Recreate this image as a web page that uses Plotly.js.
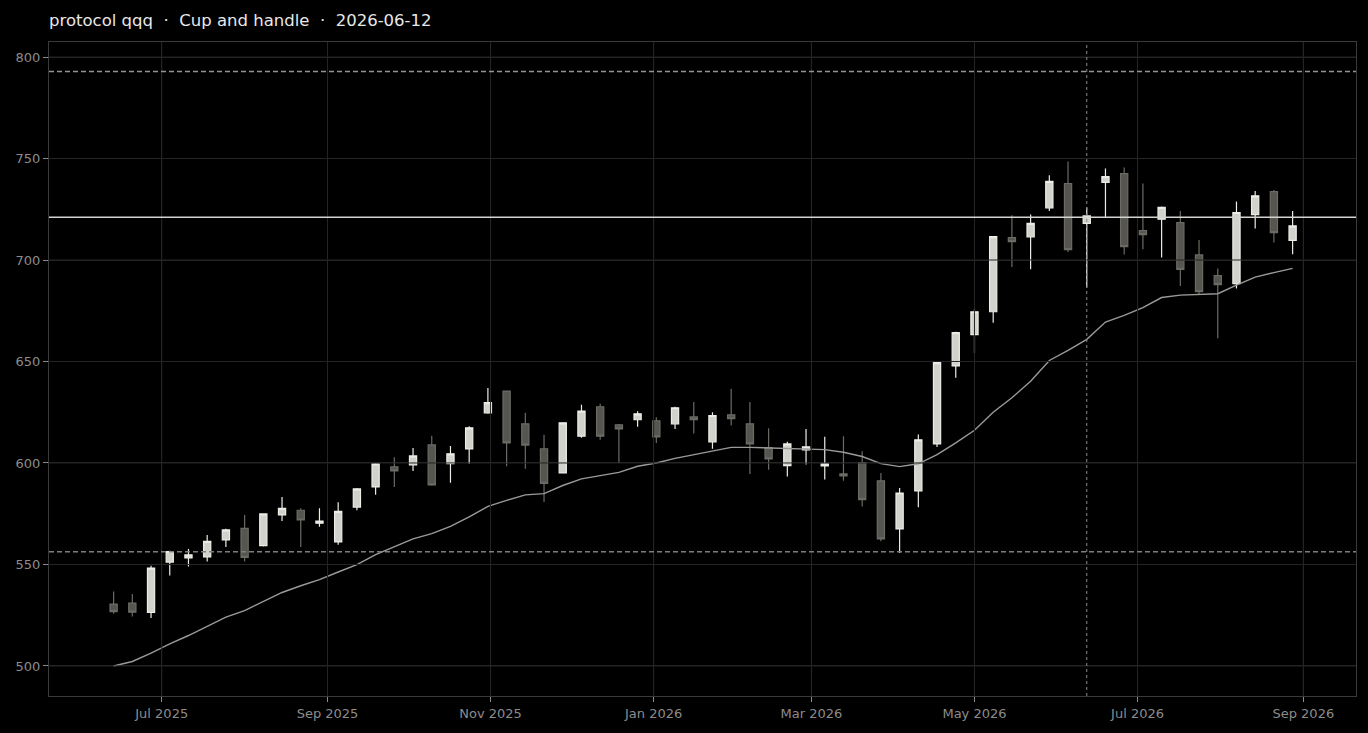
<!DOCTYPE html>
<html>
<head>
<meta charset="utf-8">
<script src="https://cdn.plot.ly/plotly-3.0.1.min.js"></script>
<style>
  html, body { margin: 0; padding: 0; background: #000; }
  #chart { width: 1368px; height: 733px; }
</style>
</head>
<body>
<div id="chart"></div>
<script>
const dates = [
  '2025-06-13','2025-06-20','2025-06-27','2025-07-04','2025-07-11','2025-07-18','2025-07-25','2025-08-01',
  '2025-08-08','2025-08-15','2025-08-22','2025-08-29','2025-09-05','2025-09-12','2025-09-19','2025-09-26',
  '2025-10-03','2025-10-10','2025-10-17','2025-10-24','2025-10-31','2025-11-07','2025-11-14','2025-11-21',
  '2025-11-28','2025-12-05','2025-12-12','2025-12-19','2025-12-26','2026-01-02','2026-01-09','2026-01-16',
  '2026-01-23','2026-01-30','2026-02-06','2026-02-13','2026-02-20','2026-02-27','2026-03-06','2026-03-13',
  '2026-03-20','2026-03-27','2026-04-03','2026-04-10','2026-04-17','2026-04-24','2026-05-01','2026-05-08',
  '2026-05-15','2026-05-22','2026-05-29','2026-06-05','2026-06-12','2026-06-19','2026-06-26','2026-07-03',
  '2026-07-10','2026-07-17','2026-07-24','2026-07-31','2026-08-07','2026-08-14','2026-08-21','2026-08-28'
];
const openV = [
  530.5,531.0,526.4,551.2,553.2,553.7,562.1,567.8,559.3,574.4,576.7,570.3,561.1,578.3,588.2,598.1,
  599.1,608.9,599.7,606.9,624.7,635.4,619.3,607.0,595.1,613.2,627.7,618.8,621.3,620.8,619.3,622.7,
  610.4,623.7,619.3,607.6,598.7,606.5,598.6,594.6,600.2,591.2,567.5,586.2,609.4,647.8,663.2,674.5,
  711.0,711.4,725.7,737.7,718.0,738.2,742.6,714.5,720.1,718.4,702.5,692.3,688.4,722.4,733.7,709.7
];
const highV = [
  536.7,535.4,549.4,556.8,557.6,564.5,567.6,574.4,575.2,583.3,577.7,577.7,580.6,587.7,600.0,602.8,
  607.4,613.4,608.4,618.1,637.0,635.6,624.7,613.9,620.1,628.7,629.2,619.2,625.5,622.5,627.7,630.0,
  625.0,636.6,630.0,617.1,610.4,616.8,612.9,613.2,605.8,595.1,587.7,614.0,649.6,664.7,676.0,711.8,
  722.1,722.4,741.8,748.5,725.9,745.1,745.6,737.7,726.3,724.2,709.9,695.8,728.8,734.0,734.5,724.2
];
const lowV = [
  525.7,524.4,523.6,544.6,549.0,551.5,558.6,551.5,558.8,571.4,558.6,568.6,559.7,576.7,584.3,588.2,
  596.1,588.8,590.2,599.6,624.2,598.4,597.1,580.8,594.8,612.4,611.5,600.0,617.8,609.9,616.8,614.5,
  607.0,618.5,594.6,596.7,593.3,599.2,591.8,591.3,578.6,561.4,555.6,578.2,607.9,642.0,654.0,669.1,
  696.5,695.4,724.2,703.9,686.4,721.2,702.7,705.3,701.2,687.2,682.7,661.4,686.0,715.5,708.6,702.8
];
const closeV = [
  526.8,526.5,548.2,556.4,554.7,561.4,567.0,553.5,574.9,577.7,571.9,571.4,576.2,587.2,599.6,596.1,
  603.5,589.2,604.5,617.3,629.7,609.9,608.8,590.0,619.8,625.5,613.2,616.8,624.2,612.9,627.2,621.3,
  623.4,621.8,609.4,602.0,609.4,608.0,599.6,593.6,581.9,562.6,585.2,611.4,649.4,664.2,674.5,711.5,
  709.1,718.0,738.7,705.1,721.7,741.1,706.6,712.5,725.9,695.4,684.4,687.9,723.4,731.6,713.5,716.8
];
const maV = [
  500.0,502.2,506.3,510.9,515.0,519.4,524.1,527.3,531.8,536.2,539.5,542.5,546.3,549.9,554.8,558.9,
  562.6,565.2,568.8,573.4,578.6,581.6,584.3,584.9,588.9,592.2,593.8,595.4,598.4,600.0,602.3,604.1,
  605.8,607.7,607.7,607.4,607.4,607.1,606.6,605.3,603.2,599.7,598.2,599.6,604.1,609.9,616.1,625.0,
  632.1,640.3,650.5,655.5,660.9,669.4,672.7,676.5,681.5,682.7,683.1,683.4,687.6,691.6,693.8,695.9
];
const levelUpper = 792.9;
const levelLower = 556.3;
const levelRim = 721.0;
const markerDate = '2026-06-12';
const yTickVals = [500, 550, 600, 650, 700, 750, 800];
const xTickVals = ['2025-07-01','2025-09-01','2025-11-01','2026-01-01','2026-03-01','2026-05-01','2026-07-01','2026-09-01'];
const xTickText = ['Jul 2025','Sep 2025','Nov 2025','Jan 2026','Mar 2026','May 2026','Jul 2026','Sep 2026'];
const titleText = 'protocol qqq \u00a0·\u00a0 Cup and handle \u00a0·\u00a0 2026-06-12';

const gridColor = '#252525';
const font = 'DejaVu Sans, Verdana, sans-serif';

const candle = {
  type: 'candlestick',
  x: dates, open: openV, high: highV, low: lowV, close: closeV,
  increasing: { line: { color: '#ecece6', width: 1.2 }, fillcolor: '#d2d2cc' },
  decreasing: { line: { color: '#6b6a64', width: 1.2 }, fillcolor: '#56554f' },
  whiskerwidth: 0,
  hoverinfo: 'skip',
  showlegend: false
};
const ma = {
  type: 'scatter', mode: 'lines',
  x: dates, y: maV,
  line: { color: '#9a9a9a', width: 1.4 },
  hoverinfo: 'skip', showlegend: false
};

const shapes = [];
yTickVals.forEach(v => shapes.push({
  type: 'line', xref: 'paper', x0: 0, x1: 1, yref: 'y', y0: v, y1: v,
  line: { color: gridColor, width: 1 }, layer: 'above'
}));
xTickVals.forEach(v => shapes.push({
  type: 'line', xref: 'x', x0: v, x1: v, yref: 'paper', y0: 0, y1: 1,
  line: { color: gridColor, width: 1 }, layer: 'above'
}));
shapes.push({ type: 'line', xref: 'paper', x0: 0, x1: 1, yref: 'y', y0: levelUpper, y1: levelUpper,
  line: { color: '#959595', width: 1.5, dash: '5px,3px' }, layer: 'above' });
shapes.push({ type: 'line', xref: 'paper', x0: 0, x1: 1, yref: 'y', y0: levelLower, y1: levelLower,
  line: { color: '#7e7e7e', width: 1.5, dash: '5px,3px' }, layer: 'above' });
shapes.push({ type: 'line', xref: 'paper', x0: 0, x1: 1, yref: 'y', y0: levelRim, y1: levelRim,
  line: { color: '#d4d4d0', width: 1.5 }, layer: 'above' });
shapes.push({ type: 'line', xref: 'x', x0: markerDate, x1: markerDate, yref: 'paper', y0: 0, y1: 1,
  line: { color: '#8a8a8a', width: 1, dash: 'dot' }, layer: 'above' });

const layout = {
  width: 1368, height: 733,
  paper_bgcolor: '#000000', plot_bgcolor: '#000000',
  margin: { l: 49, r: 12, t: 42, b: 37 },
  font: { family: font, color: '#8c8c8c', size: 13 },
  title: {
    text: titleText,
    font: { family: font, size: 16.5, color: '#e8e8e8' },
    x: 49 / 1368, xanchor: 'left', xref: 'container',
    y: 1 - 20 / 733, yanchor: 'middle', yref: 'container'
  },
  boxgap: 0.45,
  xaxis: {
    type: 'date',
    range: ['2025-05-19 20:00', '2026-09-20 17:00'],
    tickmode: 'array', tickvals: xTickVals, ticktext: xTickText,
    showgrid: true, gridcolor: gridColor, gridwidth: 1,
    showline: true, linecolor: '#3a3a3a', linewidth: 1, mirror: true,
    ticks: 'outside', ticklen: 5, tickcolor: '#8c8c8c', tickwidth: 1,
    tickfont: { family: font, size: 13, color: '#8c8c8c' },
    zeroline: false,
    rangeslider: { visible: false },
    fixedrange: true
  },
  yaxis: {
    range: [485.2, 807.4],
    tickmode: 'array', tickvals: yTickVals,
    showgrid: true, gridcolor: gridColor, gridwidth: 1,
    showline: true, linecolor: '#3a3a3a', linewidth: 1, mirror: true,
    ticks: 'outside', ticklen: 5, tickcolor: '#8c8c8c', tickwidth: 1,
    tickfont: { family: font, size: 13, color: '#8c8c8c' },
    zeroline: false,
    fixedrange: true
  },
  shapes: shapes,
  showlegend: false
};

Plotly.newPlot('chart', [candle, ma], layout, { displayModeBar: false, staticPlot: true });
</script>
</body>
</html>
